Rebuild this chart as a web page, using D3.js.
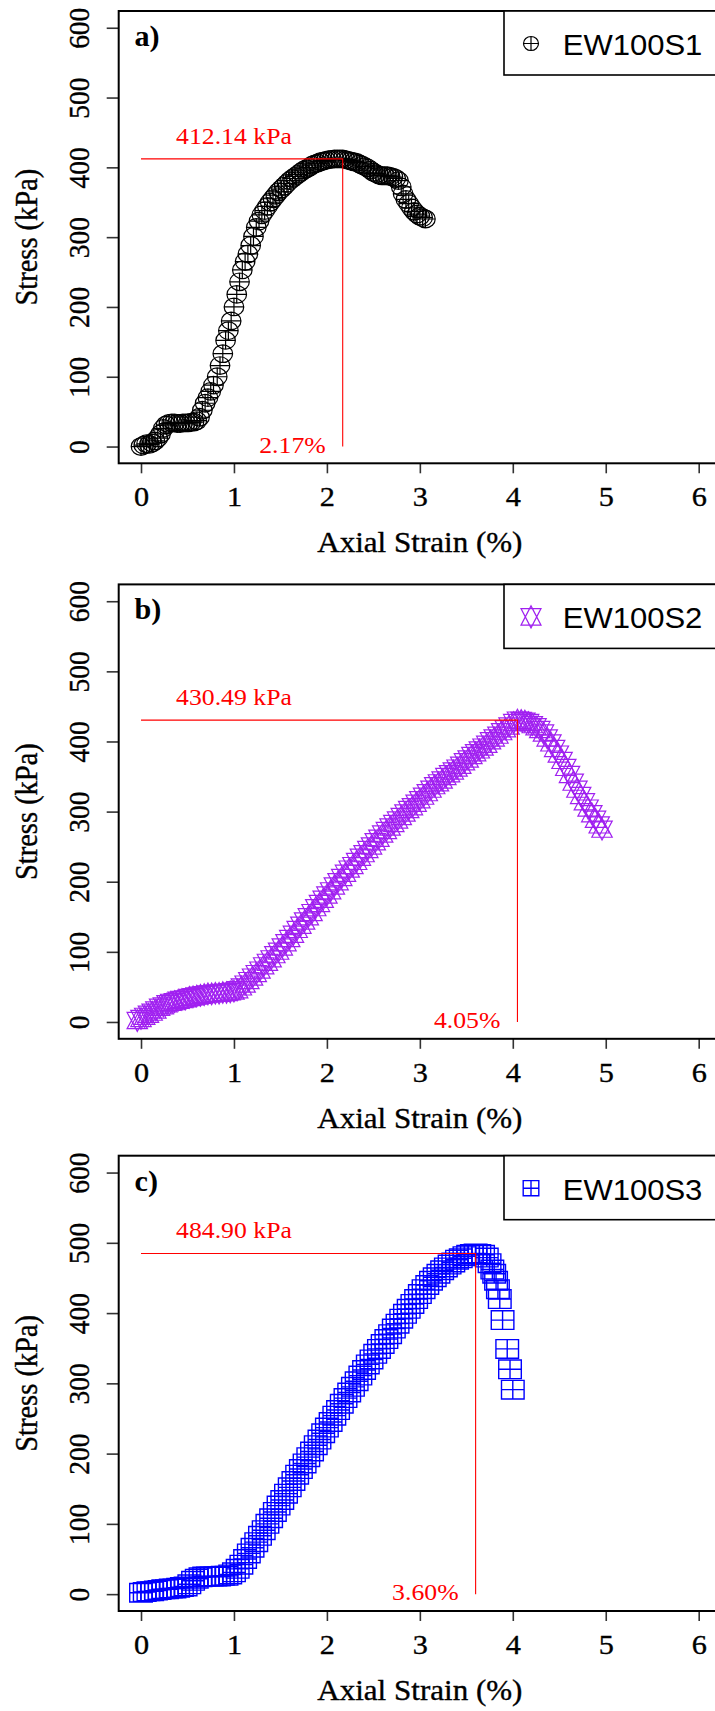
<!DOCTYPE html>
<html>
<head>
<meta charset="utf-8">
<script src="https://cdn.jsdelivr.net/npm/d3@7"></script>
<style>
  body { margin: 0; background: #fff; }
  svg { display: block; }
  .heavy { stroke: #000; stroke-width: 0.35px; }
</style>
</head>
<body>
<svg id="chart" width="715" height="1711"></svg>
<script>
var xTicks = [0, 1, 2, 3, 4, 5, 6];
var yTicks = [0, 100, 200, 300, 400, 500, 600];
var xDomain = [-0.24, 6.24];
var yDomain = [-24, 624];

var sampleNames = ['EW100S1', 'EW100S2', 'EW100S3'];
var panelLabels = ['a)', 'b)', 'c)'];
var peakStrain = [2.17, 4.05, 3.60];
var peakStress = [412.14, 430.49, 484.90];
var peakStressText = ['412.14 kPa', '430.49 kPa', '484.90 kPa'];
var peakStrainText = ['2.17%', '4.05%', '3.60%'];

// [axial strain %, stress kPa]
var curveS1 = [[0.00,0],[0.03,2],[0.06,4],[0.09,3],[0.12,5],[0.15,8],[0.18,12],[0.21,18],[0.24,26],[0.27,31],
    [0.30,33],[0.33,34],[0.36,34],[0.39,33],[0.42,33],[0.45,34],[0.48,34],[0.51,34],[0.54,35],[0.57,35],
    [0.60,37],[0.63,42],[0.66,52],[0.69,62],[0.72,70],[0.75,79],[0.78,88],[0.82,100],[0.85,116],[0.88,133],
    [0.91,152],[0.94,166],[0.97,180],[1.00,200],[1.03,218],[1.06,236],[1.09,253],[1.12,265],[1.15,276],[1.18,288],
    [1.21,301],[1.24,314],[1.27,323],[1.30,332],[1.33,338],[1.36,344],[1.39,350],[1.42,355],[1.45,360],[1.48,365],
    [1.51,369],[1.54,373],[1.57,377],[1.60,381],[1.63,384],[1.66,387],[1.69,390],[1.72,393],[1.75,396],[1.78,398],
    [1.81,400],[1.84,403],[1.87,405],[1.90,406],[1.93,408],[1.96,409],[1.99,410],[2.02,411],[2.05,411.5],[2.08,412],
    [2.11,412],[2.14,412],[2.17,412.14],[2.20,411],[2.23,410],[2.26,409],[2.29,408],[2.32,407],[2.35,405],[2.38,403],
    [2.41,401],[2.44,399],[2.47,396],[2.50,393],[2.53,391],[2.56,389],[2.59,388],[2.62,388],[2.65,388],[2.68,387],
    [2.71,386],[2.74,384],[2.77,381],[2.80,372],[2.82,362],[2.85,354],[2.88,348],[2.91,342],[2.94,337],[2.97,333],
    [3.00,330],[3.03,328],[3.06,326]];

var curveS2 = [[-0.04,2],[0.00,5],[0.04,8],[0.08,11],[0.12,14],[0.16,17],[0.20,21],[0.24,23],[0.28,26],[0.32,28],
    [0.36,29],[0.40,31],[0.44,32],[0.48,33],[0.52,35],[0.56,36],[0.60,37],[0.64,38],[0.68,39],[0.72,40],
    [0.76,40],[0.80,41],[0.84,41],[0.88,42],[0.92,42],[0.96,43],[1.00,44],[1.04,46],[1.08,50],[1.12,54],
    [1.16,59],[1.20,64],[1.24,69],[1.28,74],[1.32,80],[1.36,85],[1.40,90],[1.44,96],[1.48,101],[1.52,107],
    [1.56,113],[1.60,119],[1.64,125],[1.68,132],[1.72,138],[1.76,144],[1.80,150],[1.84,156],[1.88,163],[1.92,169],
    [1.96,175],[2.00,181],[2.04,187],[2.08,194],[2.12,200],[2.16,206],[2.20,212],[2.24,218],[2.28,223],[2.32,229],
    [2.36,235],[2.40,240],[2.44,246],[2.48,251],[2.52,257],[2.56,262],[2.60,268],[2.64,273],[2.68,278],[2.72,283],
    [2.76,288],[2.80,293],[2.84,298],[2.88,303],[2.92,307],[2.96,312],[3.00,317],[3.04,322],[3.08,327],[3.12,332],
    [3.16,337],[3.20,341],[3.24,345],[3.28,350],[3.32,354],[3.36,358],[3.40,362],[3.44,366],[3.48,371],[3.52,375],
    [3.56,380],[3.60,384],[3.64,388],[3.68,392],[3.72,396],[3.76,401],[3.80,405],[3.84,409],[3.88,414],[3.92,418],
    [3.96,422],[4.01,427],[4.05,430.49],[4.09,430],[4.13,429],[4.17,427],[4.21,424],[4.25,421],[4.29,417],[4.33,412],
    [4.37,405],[4.41,398],[4.45,390],[4.49,382],[4.53,373],[4.57,363],[4.61,353],[4.65,342],[4.69,332],[4.73,323],
    [4.77,314],[4.81,305],[4.85,297],[4.89,289],[4.93,281],[4.96,275]];

var curveS3 = [[0.00,2],[0.04,3],[0.08,4],[0.12,4],[0.16,5],[0.20,6],[0.24,7],[0.28,7],[0.32,8],[0.36,8],
    [0.40,9],[0.44,10],[0.48,11],[0.52,14],[0.56,19],[0.60,22],[0.64,24],[0.68,25],[0.72,25],[0.76,25],
    [0.80,25],[0.84,25],[0.88,26],[0.92,26],[0.96,28],[1.00,31],[1.04,36],[1.08,42],[1.12,50],[1.16,58],
    [1.20,66],[1.24,74],[1.28,83],[1.32,91],[1.36,100],[1.40,108],[1.44,117],[1.48,126],[1.52,134],[1.56,143],
    [1.60,152],[1.64,161],[1.68,170],[1.72,178],[1.76,186],[1.80,195],[1.84,203],[1.88,212],[1.92,220],[1.96,229],
    [2.00,237],[2.04,245],[2.08,254],[2.12,262],[2.16,271],[2.20,279],[2.24,287],[2.28,295],[2.32,303],[2.36,311],
    [2.40,319],[2.44,327],[2.48,334],[2.52,342],[2.56,349],[2.60,356],[2.64,363],[2.68,370],[2.72,378],[2.76,385],
    [2.80,392],[2.84,399],[2.88,406],[2.92,413],[2.96,420],[3.00,427],[3.04,434],[3.08,440],[3.12,446],[3.16,451],
    [3.20,456],[3.24,461],[3.28,465],[3.32,469],[3.36,472],[3.40,476],[3.44,478],[3.48,481],[3.52,483],[3.56,484],
    [3.60,484.9],[3.64,484],[3.68,483],[3.72,479],[3.75,471],[3.78,462],[3.80,456],[3.82,446],[3.84,434],[3.86,420],
    [3.89,390],[3.94,349],[3.97,320],[4.00,291]];

// page layout
var plotLeft = 118.7, plotRight = 721;
var serif = "'Liberation Serif', 'Times New Roman', serif";
var sans = "'Liberation Sans', Arial, Helvetica, sans-serif";

var panels = [
    {top: 11, bottom: 463.3, curve: curveS1, color: '#000000', marker: 'circlePlus',
        hw: 9.8, hh: 8.8, lhw: 7.5, lhh: 7, sw: 1.2},
    {top: 584.4, bottom: 1038.8, curve: curveS2, color: '#A020F0', marker: 'star',
        hw: 10.2, hh: 10.8, lhw: 10, lhh: 11, sw: 1.2},
    {top: 1155.7, bottom: 1611, curve: curveS3, color: '#0000FF', marker: 'squarePlus',
        hw: 11.3, hh: 9.3, lhw: 7.8, lhh: 7.6, sw: 1.4}
];

function markerPath(type, cx, cy, hw, hh) {
    if (type === 'circlePlus') {
        return 'M' + (cx - hw) + ',' + cy +
            'A' + hw + ',' + hh + ' 0 1,0 ' + (cx + hw) + ',' + cy +
            'A' + hw + ',' + hh + ' 0 1,0 ' + (cx - hw) + ',' + cy +
            'M' + (cx - hw) + ',' + cy + 'H' + (cx + hw) +
            'M' + cx + ',' + (cy - hh) + 'V' + (cy + hh);
    }
    if (type === 'star') {
        var yc = 0.75 * hh;
        return 'M' + cx + ',' + (cy - hh) + 'L' + (cx + hw) + ',' + (cy + yc) + 'L' + (cx - hw) + ',' + (cy + yc) + 'Z' +
            'M' + cx + ',' + (cy + hh) + 'L' + (cx + hw) + ',' + (cy - yc) + 'L' + (cx - hw) + ',' + (cy - yc) + 'Z';
    }
    return 'M' + (cx - hw) + ',' + (cy - hh) + 'H' + (cx + hw) + 'V' + (cy + hh) + 'H' + (cx - hw) + 'Z' +
        'M' + (cx - hw) + ',' + cy + 'H' + (cx + hw) +
        'M' + cx + ',' + (cy - hh) + 'V' + (cy + hh);
}

function stretched(x, y, sx) {
    return 'translate(' + x + ',' + y + ') scale(' + sx + ',1)';
}

var svg = d3.select('#chart');

panels.forEach(function (p, k) {
    var x = d3.scaleLinear().domain(xDomain).range([plotLeft, plotRight]);
    var y = d3.scaleLinear().domain(yDomain).range([p.bottom, p.top]);
    var g = svg.append('g').attr('class', 'panel');

    g.selectAll('path.pt')
        .data(p.curve)
        .enter().append('path')
        .attr('class', 'pt')
        .attr('d', function (d) {
            return markerPath(p.marker, x(d[0]), y(d[1]), p.hw, p.hh);
        })
        .style('fill', 'none')
        .style('stroke', p.color)
        .style('stroke-width', p.sw);

    // peak guide lines
    g.append('path')
        .attr('d', 'M' + x(0) + ',' + y(peakStress[k]) + 'H' + x(peakStrain[k]) + 'V' + y(0))
        .style('fill', 'none')
        .style('stroke', '#FF0000')
        .style('stroke-width', 1.1);

    g.append('text')
        .attr('transform', stretched(x(1), y(peakStress[k]) - 15, 1.12))
        .attr('text-anchor', 'middle')
        .style('font-family', serif)
        .style('font-size', '23px')
        .style('fill', '#FF0000')
        .text(peakStressText[k]);

    g.append('text')
        .attr('transform', stretched(x(peakStrain[k]) - 17, y(0) + 6, 1.12))
        .attr('text-anchor', 'end')
        .style('font-family', serif)
        .style('font-size', '23px')
        .style('fill', '#FF0000')
        .text(peakStrainText[k]);

    // axes
    var xAxis = g.append('g')
        .attr('transform', 'translate(0,' + p.bottom + ')')
        .call(d3.axisBottom(x).tickValues(xTicks).tickSize(10).tickSizeOuter(0).tickFormat(d3.format('d')));
    xAxis.select('.domain').remove();
    xAxis.selectAll('line').style('stroke', '#333').style('stroke-width', 1.6);
    xAxis.selectAll('text')
        .attr('class', 'heavy')
        .attr('y', 0).attr('dy', 0)
        .attr('transform', stretched(0, 43, 1.1))
        .style('font-family', serif)
        .style('font-size', '27.5px')
        .style('fill', '#000');

    var yAxis = g.append('g')
        .attr('transform', 'translate(' + plotLeft + ',0)')
        .call(d3.axisLeft(y).tickValues(yTicks).tickSize(12).tickSizeOuter(0).tickFormat(d3.format('d')));
    yAxis.select('.domain').remove();
    yAxis.selectAll('line').style('stroke', '#333').style('stroke-width', 1.6);
    yAxis.selectAll('text')
        .attr('class', 'heavy')
        .attr('x', 0).attr('dy', 0)
        .attr('text-anchor', 'middle')
        .attr('transform', 'translate(-29.5,0) scale(1.1,1) rotate(-90)')
        .style('font-family', serif)
        .style('font-size', '27.5px')
        .style('fill', '#000');

    g.append('rect')
        .attr('x', plotLeft)
        .attr('y', p.top)
        .attr('width', plotRight - plotLeft)
        .attr('height', p.bottom - p.top)
        .style('fill', 'none')
        .style('stroke', '#000')
        .style('stroke-width', 2);

    g.append('text')
        .attr('class', 'heavy')
        .attr('transform', stretched((plotLeft + plotRight) / 2, p.bottom + 89, 1.09))
        .attr('text-anchor', 'middle')
        .style('font-family', serif)
        .style('font-size', '28.5px')
        .text('Axial Strain (%)');

    g.append('text')
        .attr('class', 'heavy')
        .attr('transform', 'translate(37,' + ((p.top + p.bottom) / 2) + ') scale(1.09,1) rotate(-90)')
        .attr('text-anchor', 'middle')
        .style('font-family', serif)
        .style('font-size', '28.5px')
        .text('Stress (kPa)');

    g.append('text')
        .attr('transform', stretched(134.5, p.top + 35, 1.04))
        .style('font-family', serif)
        .style('font-weight', 'bold')
        .style('font-size', '29px')
        .text(panelLabels[k]);

    // legend
    var lg = g.append('g').attr('class', 'legend');
    lg.append('rect')
        .attr('x', 504)
        .attr('y', p.top)
        .attr('width', 240)
        .attr('height', 64)
        .style('fill', '#fff')
        .style('stroke', '#000')
        .style('stroke-width', 1.6);
    lg.append('path')
        .attr('d', markerPath(p.marker, 531, p.top + 32.5, p.lhw, p.lhh))
        .style('fill', 'none')
        .style('stroke', p.color)
        .style('stroke-width', p.sw);
    lg.append('text')
        .attr('transform', stretched(562.7, p.top + 44, 1.07))
        .style('font-family', sans)
        .style('font-size', '29px')
        .text(sampleNames[k]);
});
</script>
</body>
</html>
